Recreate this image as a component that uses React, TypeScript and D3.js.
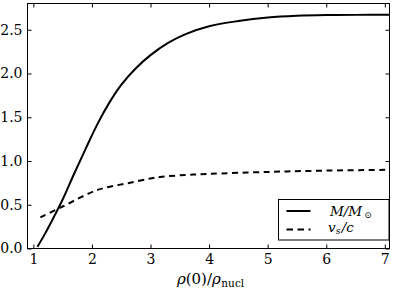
import React, { useEffect, useRef } from "react";
import * as d3 from "d3";

// central density in units of nuclear density
const massDensity = [1.07, 1.2, 1.35, 1.5, 1.7, 1.9, 2.1, 2.3, 2.5, 2.75, 3.0, 3.3, 3.6, 4.0, 4.5, 5.0, 5.5, 6.0, 6.5, 7.1];
const massValues = [0.02, 0.17, 0.36, 0.56, 0.86, 1.15, 1.43, 1.67, 1.87, 2.06, 2.21, 2.35, 2.45, 2.54, 2.6, 2.64, 2.66, 2.668, 2.67, 2.67];

const speedDensity = [1.12, 1.5, 2.0, 2.2, 2.6, 3.0, 3.2, 3.6, 4.0, 5.0, 6.0, 7.1];
const speedValues = [0.355, 0.48, 0.645, 0.69, 0.745, 0.8, 0.82, 0.84, 0.853, 0.875, 0.89, 0.9];

const xTicks = [1, 2, 3, 4, 5, 6, 7];
const yTicks = [0, 0.5, 1.0, 1.5, 2.0, 2.5];

const W = 395;
const H = 290;
const margin = { top: 3.5, right: 5.5, bottom: 41.5, left: 27.5 };
const FONT = "'DejaVu Serif', 'Liberation Serif', serif";

const App = () => {
  const svgRef = useRef<SVGSVGElement>(null);

  useEffect(() => {
    const svg = d3.select(svgRef.current);
    svg.selectAll("*").remove();

    const width = W - margin.left - margin.right;
    const height = H - margin.top - margin.bottom;

    const x = d3.scaleLinear().domain([0.9, 7.08]).range([0, width]);
    const y = d3.scaleLinear().domain([0, 2.8]).range([height, 0]);

    const g = svg.append("g").attr("transform", `translate(${margin.left},${margin.top})`);

    svg
      .append("defs")
      .append("clipPath")
      .attr("id", "plot-clip")
      .append("rect")
      .attr("width", width)
      .attr("height", height);

    const line = d3
      .line<[number, number]>()
      .x((d) => x(d[0]))
      .y((d) => y(d[1]))
      .curve(d3.curveCatmullRom.alpha(0.5));

    const plot = g.append("g").attr("clip-path", "url(#plot-clip)");

    plot
      .append("path")
      .datum(d3.zip(massDensity, massValues) as [number, number][])
      .attr("fill", "none")
      .attr("stroke", "#000")
      .attr("stroke-width", 2)
      .attr("d", line);

    plot
      .append("path")
      .datum(d3.zip(speedDensity, speedValues) as [number, number][])
      .attr("fill", "none")
      .attr("stroke", "#000")
      .attr("stroke-width", 2)
      .attr("stroke-dasharray", "6,4.5")
      .attr("d", line);

    // axes, ticks pointing inwards
    const styleAxis = (sel) => {
      sel.attr("font-family", null).attr("font-size", null);
      sel.select(".domain").remove();
      sel.selectAll("line").attr("stroke", "#000").attr("stroke-width", 1);
      sel.selectAll("text").style("font-family", FONT).style("font-size", "14px").attr("fill", "#000");
    };

    g.append("g")
      .attr("transform", `translate(0,${height})`)
      .call(d3.axisBottom(x).tickValues(xTicks).tickSize(-4).tickPadding(6).tickFormat(d3.format("d")))
      .call(styleAxis);

    g.append("g")
      .call(d3.axisLeft(y).tickValues(yTicks).tickSize(-4).tickPadding(5).tickFormat(d3.format(".1f")))
      .call(styleAxis);

    g.append("g")
      .call(d3.axisTop(x).tickValues(xTicks).tickSize(-4).tickFormat(() => ""))
      .call(styleAxis);

    g.append("g")
      .attr("transform", `translate(${width},0)`)
      .call(d3.axisRight(y).tickValues(yTicks).tickSize(-4).tickFormat(() => ""))
      .call(styleAxis);

    g.append("rect")
      .attr("width", width)
      .attr("height", height)
      .attr("fill", "none")
      .attr("stroke", "#000")
      .attr("stroke-width", 1);

    // text pieces placed one after another, subscripts as separate texts
    const addRun = (parent, x0, y0, parts) => {
      let cx = x0;
      parts.forEach((p) => {
        const t = parent
          .append("text")
          .attr("x", cx)
          .attr("y", y0 + (p.dy || 0))
          .style("font-family", FONT)
          .style("font-size", `${p.size}px`)
          .style("font-style", p.italic ? "italic" : "normal")
          .attr("fill", "#000")
          .text(p.text);
        cx += (t.node() as SVGTextElement).getComputedTextLength() + (p.gap || 0);
      });
      return cx - x0;
    };

    // x label, centred under the axes
    const xParts = [
      { text: "ρ", size: 15, italic: true },
      { text: "(0)/", size: 15 },
      { text: "ρ", size: 15, italic: true, gap: 0.5 },
      { text: "nucl", size: 10.5, dy: 3 },
    ];
    const xlab = svg.append("g");
    const xw = addRun(xlab, 0, 284, xParts);
    xlab.attr("transform", `translate(${margin.left + width / 2 + 2 - xw / 2},0)`);

    // legend
    const lg = svg.append("g");
    lg.append("rect")
      .attr("x", 278.5)
      .attr("y", 199.5)
      .attr("width", 110.5)
      .attr("height", 40.5)
      .attr("fill", "#fff")
      .attr("stroke", "#000")
      .attr("stroke-width", 1);

    lg.append("line")
      .attr("x1", 286.5).attr("x2", 310.5)
      .attr("y1", 211).attr("y2", 211)
      .attr("stroke", "#000").attr("stroke-width", 2);
    lg.append("line")
      .attr("x1", 286.5).attr("x2", 310.5)
      .attr("y1", 229.5).attr("y2", 229.5)
      .attr("stroke", "#000").attr("stroke-width", 2)
      .attr("stroke-dasharray", "6.5,4.5");

    addRun(lg, 330, 215.5, [
      { text: "M/M", size: 13.5, italic: true, gap: 2 },
      { text: "⊙", size: 9, dy: 2 },
    ]);
    addRun(lg, 328, 232, [
      { text: "v", size: 13.5, italic: true },
      { text: "s", size: 9, italic: true, dy: 2, gap: 1.5 },
      { text: "/c", size: 13.5, italic: true },
    ]);
  }, []);

  return (
    <svg
      ref={svgRef}
      width={W}
      height={H}
      style={{ position: "absolute", left: 0, top: 0, background: "#fff" }}
    />
  );
};

export default App;
